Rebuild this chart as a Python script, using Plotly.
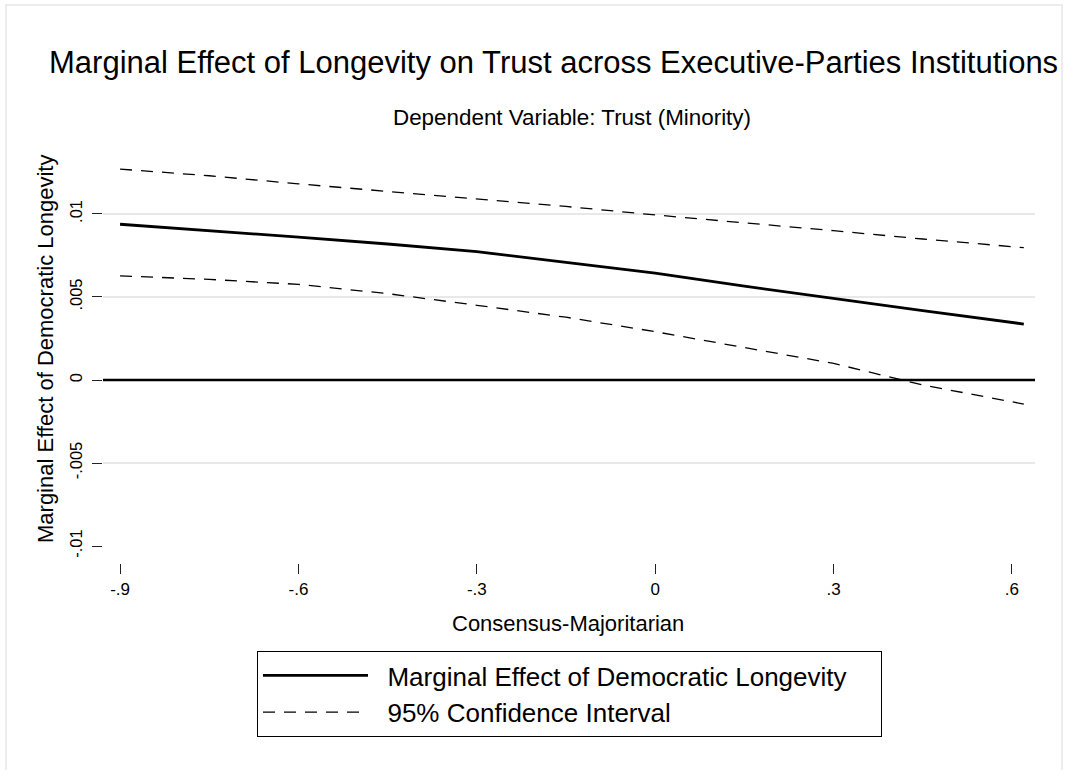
import plotly.graph_objects as go

# Consensus-Majoritarian values
x_vals = [-0.9, -0.75, -0.6, -0.45, -0.3, -0.15, 0.0, 0.15, 0.3, 0.45, 0.62]
# marginal effect of democratic longevity
effect = [0.00938, 0.00900, 0.00860, 0.00819, 0.00773, 0.00708, 0.00643, 0.00565, 0.00490, 0.00418, 0.00337]
upper_ci = [0.01270, 0.01230, 0.01181, 0.01136, 0.01094, 0.01045, 0.00994, 0.00948, 0.00899, 0.00849, 0.00797]
lower_ci = [0.00627, 0.00606, 0.00576, 0.00520, 0.00450, 0.00378, 0.00291, 0.00195, 0.00100, -0.00030, -0.00145]

x_ticks = [-0.9, -0.6, -0.3, 0, 0.3, 0.6]
x_labels = ["-.9", "-.6", "-.3", "0", ".3", ".6"]
y_ticks = [-0.01, -0.005, 0, 0.005, 0.01]
y_labels = ["-.01", "-.005", "0", ".005", ".01"]

FONT = "Liberation Sans, Arial, sans-serif"
W, H = 1073, 770
L, R, T, B = 103, 38, 152, 207
PW, PH = W - L - R, H - T - B
NB = "\u00a0"


def px(x):
    return (x - L) / PW


def py(y):
    return (H - B - y) / PH


fig = go.Figure()
fig.add_trace(go.Scatter(
    x=x_vals, y=effect, mode="lines",
    name=NB * 2 + "Marginal Effect of Democratic Longevity" + NB * 4,
    line=dict(color="black", width=2.8),
))
fig.add_trace(go.Scatter(
    x=x_vals, y=upper_ci, mode="lines", name=NB * 2 + "95% Confidence Interval",
    line=dict(color="black", width=1.3, dash="12px,9px"),
))
fig.add_trace(go.Scatter(
    x=x_vals, y=lower_ci, mode="lines", showlegend=False,
    line=dict(color="black", width=1.3, dash="12px,9px"),
))

# grid lines (none at the bottom tick), zero line in black
for v in y_ticks[1:]:
    if v == 0:
        continue
    fig.add_shape(type="line", xref="paper", x0=0, x1=1, yref="y", y0=v, y1=v,
                  line=dict(color="#e8e8e8", width=2), layer="below")
fig.add_shape(type="line", xref="paper", x0=0, x1=1, yref="y", y0=0, y1=0,
              line=dict(color="black", width=2.6), layer="below")

# light outer frame
fig.add_shape(type="rect", xref="paper", yref="paper",
              x0=px(6), x1=px(1062), y0=py(775), y1=py(5),
              line=dict(color="#ececec", width=2))

fig.add_annotation(text="Marginal Effect of Longevity on Trust across Executive-Parties Institutions",
                   xref="paper", yref="paper", x=px(553), y=py(62), showarrow=False,
                   xanchor="center", yanchor="middle", font=dict(size=31, color="black"))
fig.add_annotation(text="Dependent Variable: Trust (Minority)",
                   xref="paper", yref="paper", x=px(572), y=py(117), showarrow=False,
                   xanchor="center", yanchor="middle", font=dict(size=22.4, color="black"))
fig.add_annotation(text="Consensus-Majoritarian",
                   xref="paper", yref="paper", x=px(568), y=py(623), showarrow=False,
                   xanchor="center", yanchor="middle", font=dict(size=22, color="black"))
fig.add_annotation(text="Marginal Effect of Democratic Longevity", textangle=-90,
                   xref="paper", yref="paper", x=px(45), y=py(349), showarrow=False,
                   xanchor="center", yanchor="middle", font=dict(size=22, color="black"))

fig.update_xaxes(
    range=[-0.9287, 0.6388], tickvals=x_ticks, ticktext=x_labels,
    showgrid=False, zeroline=False, showline=False, automargin=False,
    ticks="outside", ticklen=10, tickwidth=1, tickcolor="#222",
    tickfont=dict(size=17, color="black"), ticklabelstandoff=1,
)
fig.update_yaxes(
    range=[-0.01102, 0.01373], tickvals=y_ticks, ticktext=y_labels, tickangle=-90,
    showgrid=False, zeroline=False, showline=False, automargin=False,
    ticks="outside", ticklen=10, tickwidth=1, tickcolor="#222",
    tickfont=dict(size=16.5, color="black"), ticklabelstandoff=3,
)

fig.update_layout(
    width=W, height=H,
    margin=dict(l=L, r=R, t=T, b=B),
    paper_bgcolor="white", plot_bgcolor="white",
    font=dict(family=FONT, color="black"),
    legend=dict(
        x=px(257), xanchor="left", y=py(651), yanchor="top",
        bordercolor="black", borderwidth=1, bgcolor="white",
        font=dict(size=26, color="black"), itemwidth=105, tracegroupgap=0,
    ),
    showlegend=True,
)

fig.write_html("out.html", config={"displayModeBar": False},
               post_script="document.body.style.margin = '0';")
